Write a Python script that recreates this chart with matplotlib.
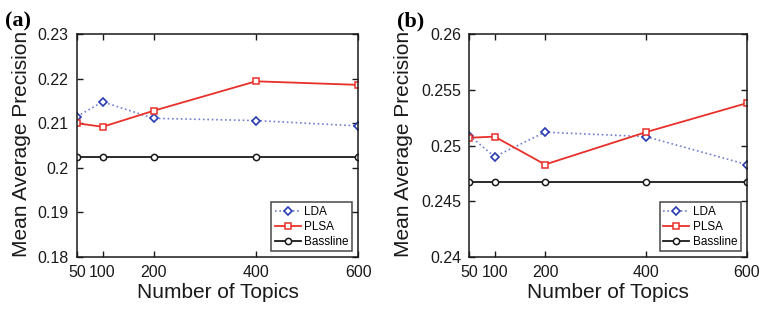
import numpy as np
import matplotlib.pyplot as plt

plt.rcParams['font.family'] = ['Liberation Sans', 'DejaVu Sans']

topics = [50, 100, 200, 400, 600]

# panel (a)
lda_a = [0.2115, 0.2148, 0.2111, 0.2106, 0.2094]
plsa_a = [0.2100, 0.2092, 0.2128, 0.2194, 0.2186]
base_a = [0.2025, 0.2025, 0.2025, 0.2025, 0.2025]
yticks_a = [0.18, 0.19, 0.2, 0.21, 0.22, 0.23]
yticklabels_a = ["0.18", "0.19", "0.2", "0.21", "0.22", "0.23"]

# panel (b)
lda_b = [0.2509, 0.2490, 0.2512, 0.2508, 0.2483]
plsa_b = [0.2507, 0.2508, 0.2483, 0.2512, 0.2538]
base_b = [0.2467, 0.2467, 0.2467, 0.2467, 0.2467]
yticks_b = [0.24, 0.245, 0.25, 0.255, 0.26]
yticklabels_b = ["0.24", "0.245", "0.25", "0.255", "0.26"]

fig = plt.figure(figsize=(7.62, 3.12), dpi=100)
ax_a = fig.add_axes([0.101, 0.176, 0.369, 0.715])
ax_b = fig.add_axes([0.616, 0.176, 0.364, 0.715])


def draw(ax, lda, plsa, base, yticks, ylabels, tag, ylab_x):
    ax.plot(topics, lda, linestyle=':', color='#7080d0', linewidth=1.2,
            marker='D', markersize=4.5, markerfacecolor='white',
            markeredgecolor='#2a3ab0', markeredgewidth=1.2, label='LDA')
    ax.plot(topics, plsa, linestyle='-', color='#e8302a', linewidth=1.3,
            marker='s', markersize=4.5, markerfacecolor='white',
            markeredgecolor='#e8302a', markeredgewidth=1.1, label='PLSA')
    ax.plot(topics, base, linestyle='-', color='#1a1a1a', linewidth=1.3,
            marker='o', markersize=4.5, markerfacecolor='white',
            markeredgecolor='#1a1a1a', markeredgewidth=1.1, label='Bassline')
    ax.set_xlim(50, 600)
    ax.set_ylim(yticks[0], yticks[-1])
    ax.set_xticks(topics)
    ax.set_xticklabels([str(t) for t in topics])
    ax.set_yticks(yticks)
    ax.set_yticklabels(ylabels)
    ax.tick_params(direction='in', top=True, right=True, labelsize=11.5,
                   length=4, width=1, pad=6, colors='#1a1a1a')
    for s in ax.spines.values():
        s.set_linewidth(1.1)
        s.set_color('#1a1a1a')
    ax.set_xlabel("Number of Topics", fontsize=15, color='#1a1a1a', labelpad=2)
    ax.set_ylabel("Mean Average Precision", fontsize=15, color='#1a1a1a')
    ax.yaxis.set_label_coords(ylab_x, 0.505)
    leg = ax.legend(loc='lower right', fontsize=8.5, frameon=True, fancybox=False,
                    edgecolor='#1a1a1a', borderpad=0.3, labelspacing=0.25,
                    handlelength=2.2, handletextpad=0.3, borderaxespad=0.5)
    leg.get_frame().set_linewidth(1.1)
    fig.text(ax.get_position().x0 - 0.095, 0.915, tag, fontsize=16,
             fontweight='bold', family='Liberation Serif')


draw(ax_a, lda_a, plsa_a, base_a, yticks_a, yticklabels_a, "(a)", -0.165)
draw(ax_b, lda_b, plsa_b, base_b, yticks_b, yticklabels_b, "(b)", -0.205)

plt.savefig("out.png", dpi=100)
